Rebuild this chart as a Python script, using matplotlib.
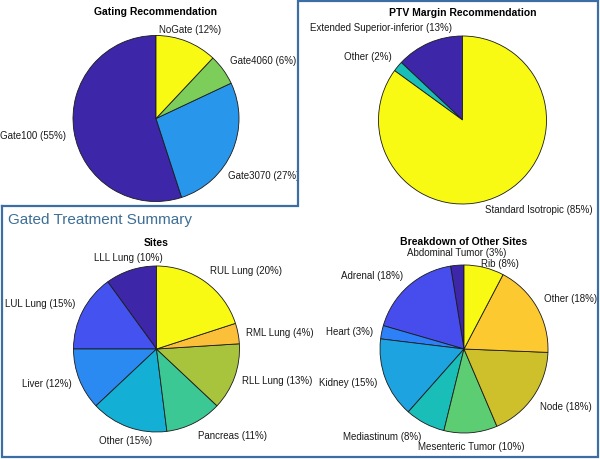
import numpy as np
import matplotlib
matplotlib.use('Agg')
import matplotlib.pyplot as plt
from matplotlib.colors import LinearSegmentedColormap
from matplotlib.lines import Line2D

plt.rcParams['font.family'] = ['Liberation Sans', 'DejaVu Sans']

# ---------------- data ----------------
gating_labels = ['Gate100', 'Gate3070', 'Gate4060', 'NoGate']
gating_values = [55, 27, 6, 12]

ptv_labels = ['Extended Superior-inferior', 'Other', 'Standard Isotropic']
ptv_values = [13, 2, 85]

sites_labels = ['LLL Lung', 'LUL Lung', 'Liver', 'Other', 'Pancreas',
                'RLL Lung', 'RML Lung', 'RUL Lung']
sites_values = [10, 15, 12, 15, 11, 13, 4, 20]

other_labels = ['Abdominal Tumor', 'Adrenal', 'Heart', 'Kidney', 'Mediastinum',
                'Mesenteric Tumor', 'Node', 'Other', 'Rib']
other_values = [1, 7, 1, 6, 3, 4, 7, 7, 3]

# ---------------- style ----------------
W, H = 600, 460
parula_anchors = [
    (0.0, (62, 38, 168)), (0.13, (70, 78, 238)), (0.25, (45, 128, 248)),
    (0.333, (40, 150, 235)), (0.375, (30, 163, 225)), (0.43, (20, 176, 212)),
    (0.5, (25, 190, 185)), (0.571, (58, 200, 150)), (0.625, (90, 205, 115)),
    (0.667, (125, 205, 90)), (0.714, (168, 196, 60)), (0.75, (205, 192, 42)),
    (0.857, (252, 190, 58)), (0.875, (253, 200, 50)), (1.0, (249, 250, 20)),
]
parula = LinearSegmentedColormap.from_list(
    'parula_like', [(t, tuple(v / 255 for v in c)) for t, c in parula_anchors])

border_color = '#3a6ea5'
summary_color = '#3d6e96'

fig = plt.figure(figsize=(W / 100, H / 100), dpi=100)


def draw_pie(cx, cy, r, values, names, title, offsets):
    ax = fig.add_axes([(cx - r) / W, (H - cy - r) / H, 2 * r / W, 2 * r / H])
    n = len(values)
    colors = [parula(i / (n - 1)) for i in range(n)]
    wedges, _ = ax.pie(values, colors=colors, startangle=90, counterclock=True,
                       radius=1,
                       wedgeprops=dict(edgecolor='#1a1a1a', linewidth=0.6))
    ax.set_xlim(-1, 1)
    ax.set_ylim(-1, 1)
    ax.set_aspect('auto')
    ax.axis('off')
    total = sum(values)
    for w, name, v, off in zip(wedges, names, values, offsets):
        ang = np.deg2rad((w.theta1 + w.theta2) / 2)
        c, s = np.cos(ang), np.sin(ang)
        ha = 'left' if c > 0.383 else ('right' if c < -0.383 else 'center')
        va = 'bottom' if s > 0.383 else ('top' if s < -0.383 else 'center')
        pct = int(round(100 * v / total))
        ax.annotate(f'{name} ({pct}%)', xy=(1.1 * c, 1.1 * s), xytext=off,
                    textcoords='offset pixels', ha=ha, va=va, fontsize=7,
                    color='#1a1a1a', annotation_clip=False)
    ax.annotate(title, xy=(0, 1), xytext=(0, 24), textcoords='offset pixels',
                ha='center', va='center', fontsize=7.5, fontweight='bold',
                annotation_clip=False)
    return ax


draw_pie(156, 119.5, 83, gating_values, gating_labels, 'Gating Recommendation',
         [(0, -2), (-12, -15), (0, 0), (0, 0)])
draw_pie(462.5, 121, 84, ptv_values, ptv_labels, 'PTV Margin Recommendation',
         [(26, 3), (0, 0), (-19, -2)])
draw_pie(156.5, 350, 83, sites_values, sites_labels, 'Sites',
         [(0, 0)] * len(sites_values))
draw_pie(464, 350, 84, other_values, other_labels, 'Breakdown of Other Sites',
         [(0, 0)] * 8 + [(14, -9)])

# outline around the PTV panel and the summary panel
xs = [2, 298, 298, 597.5, 597.5, 2, 2]
ys = [207, 207, 1.5, 1.5, 457.5, 457.5, 207]
fig.add_artist(Line2D([x / W for x in xs], [1 - y / H for y in ys],
                      transform=fig.transFigure, color=border_color,
                      linewidth=1.6, solid_joinstyle='miter'))

fig.text(8 / W, 1 - 220 / H, 'Gated Treatment Summary', ha='left', va='center',
         fontsize=11, color=summary_color)

fig.savefig('out.png', dpi=100)
